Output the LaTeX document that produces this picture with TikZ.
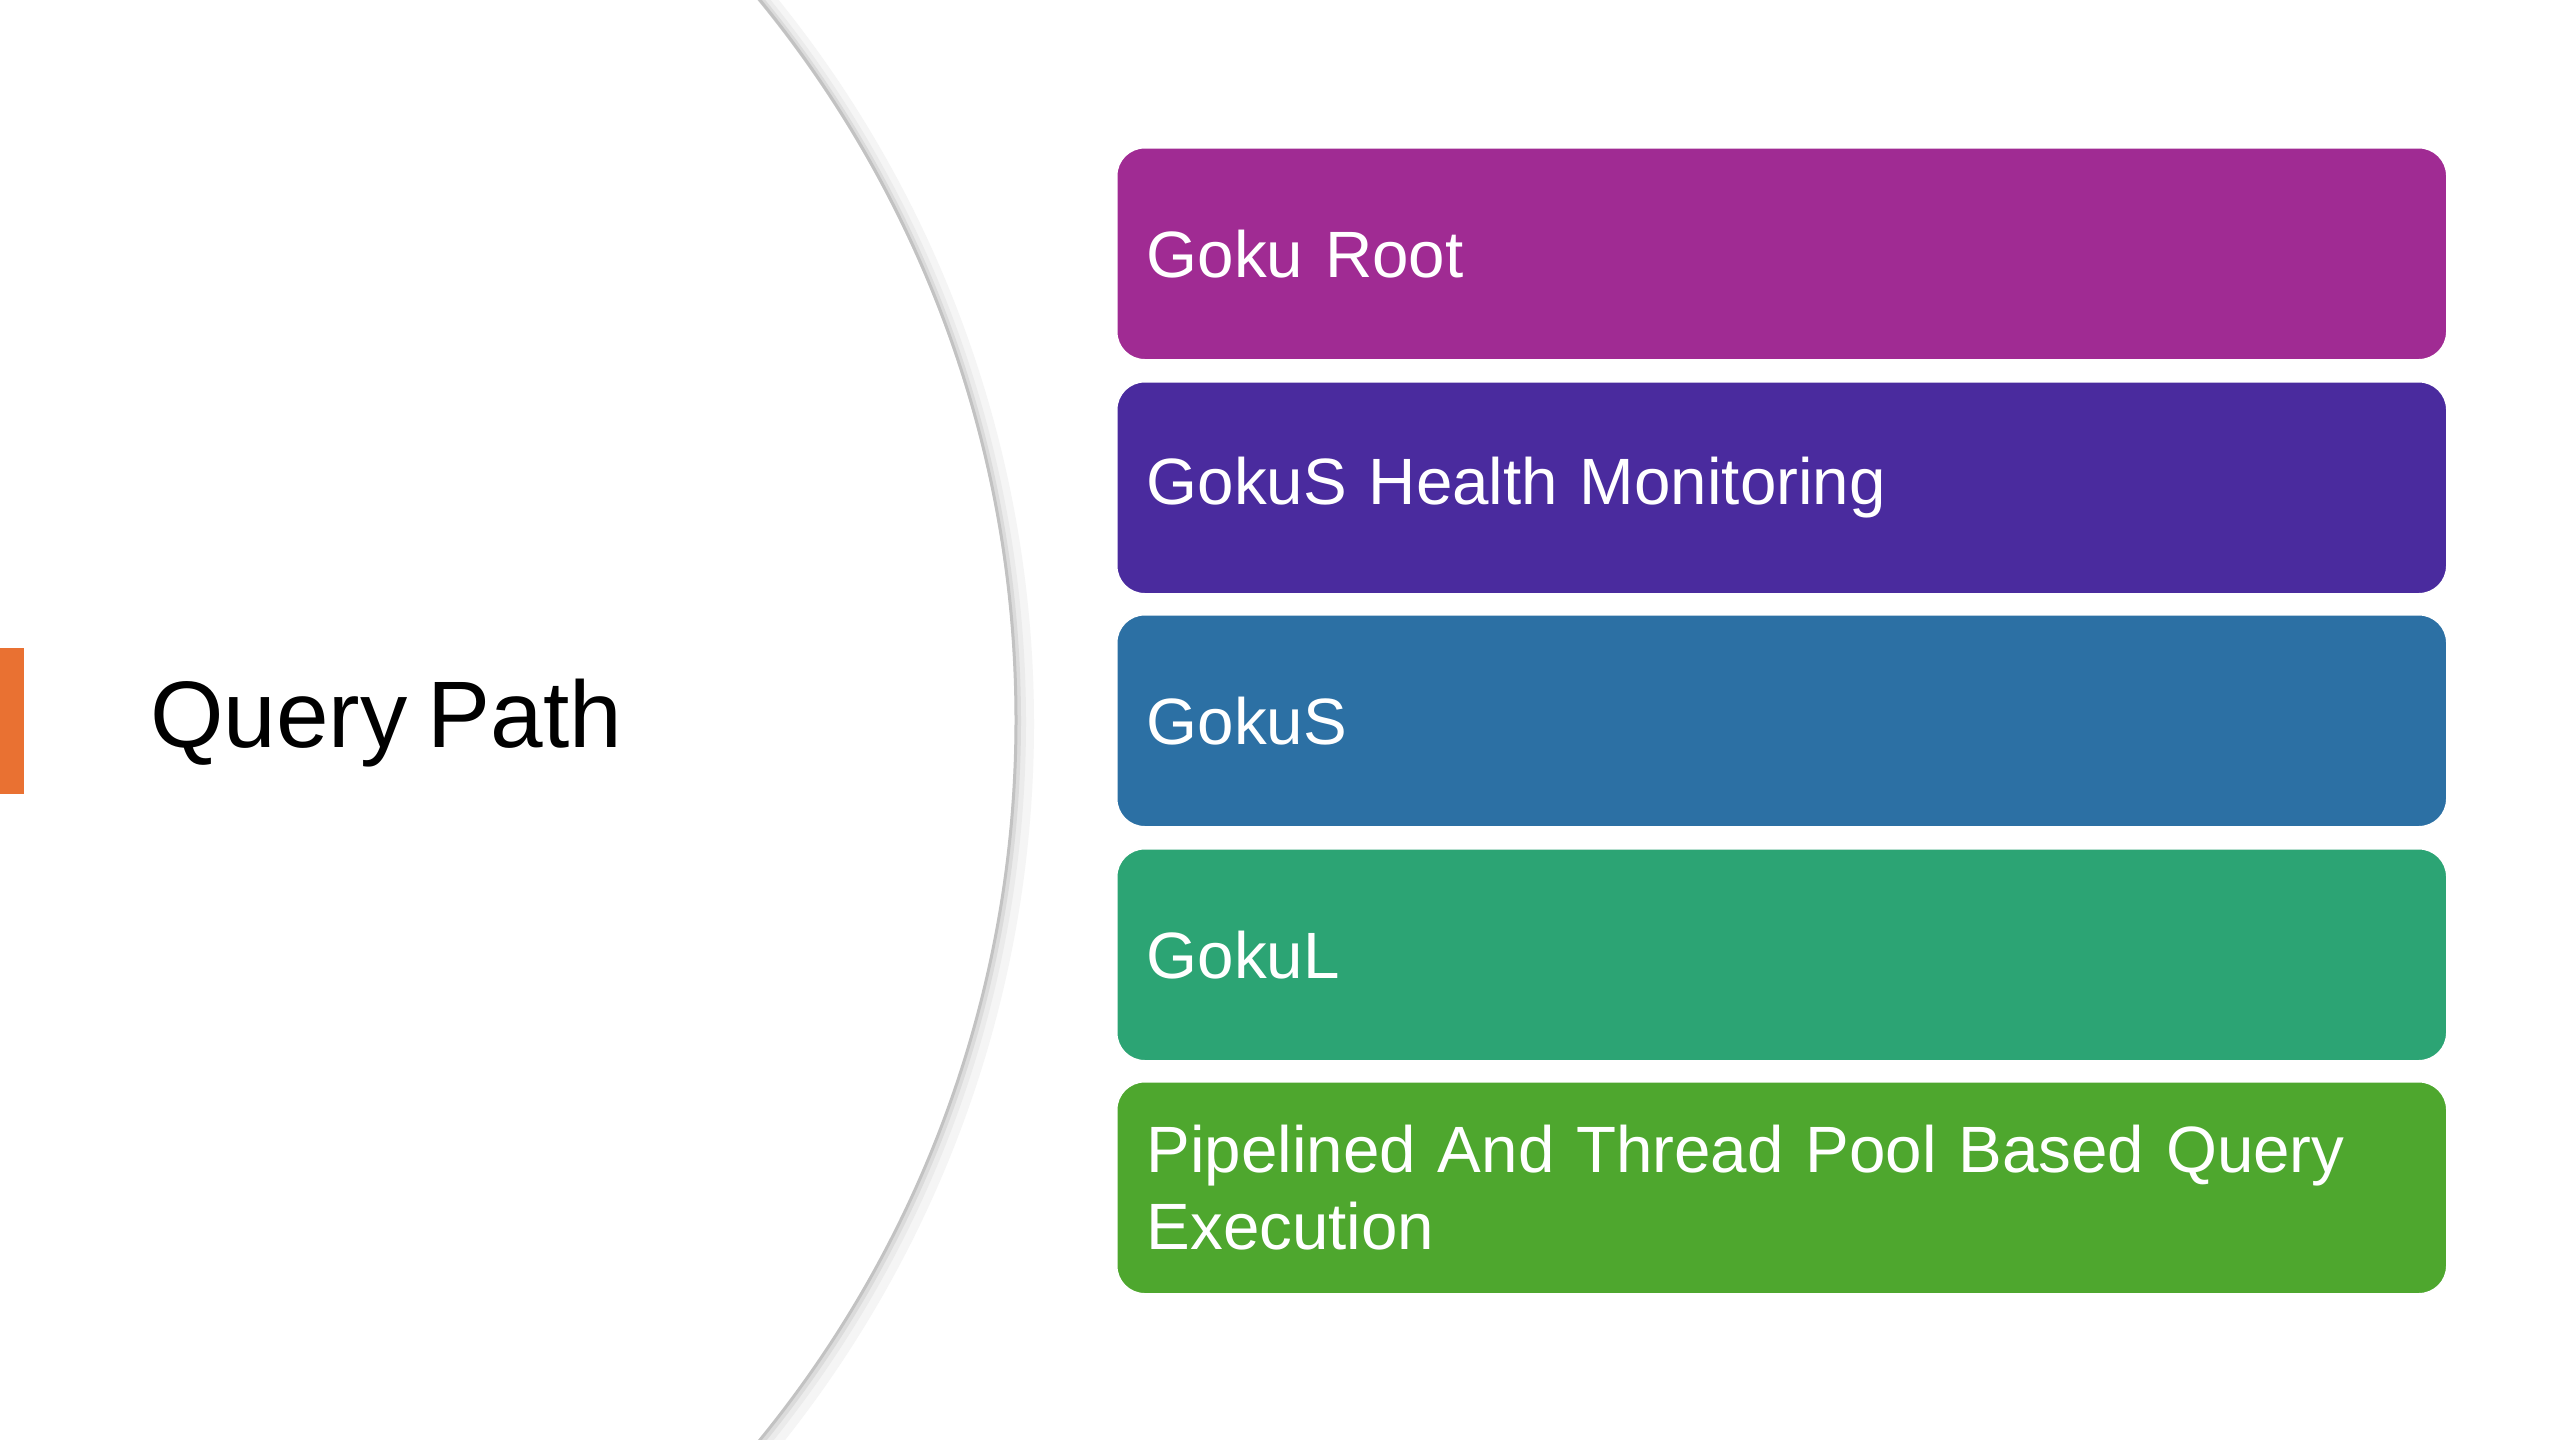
\documentclass[tikz,border=0pt]{standalone}
\usepackage{fontspec}
\setmainfont{Liberation Sans}
\definecolor{cRoot}{HTML}{A02B93}
\definecolor{cHealth}{HTML}{4A2B9E}
\definecolor{cGokuS}{HTML}{2C70A4}
\definecolor{cGokuL}{HTML}{2CA474}
\definecolor{cPipe}{HTML}{4EA72E}
\definecolor{cOrange}{HTML}{E97132}
\tikzset{
  layerbox/.style={rounded corners=28pt, draw=white, line width=1.5pt,
    minimum width=1330pt, minimum height=212pt, text width=1270pt,
    inner xsep=30pt, inner ysep=0pt, align=left, anchor=north west,
    text=white, font={\fontsize{65.5}{77}\selectfont\spaceskip=13pt plus 4pt minus 2pt\relax}},
  titletext/.style={anchor=base west, text=black, inner sep=0pt,
    font={\fontsize{94.5}{110}\selectfont\spaceskip=20pt\relax}}
}
\begin{document}
\begin{tikzpicture}[x=1pt,y=-1pt]
\useasboundingbox (0,0) rectangle (2560,1440);
\fill[white] (0,0) rectangle (2560,1440);
\begin{scope}
\clip (0,0) rectangle (2560,1440);
% big circle with soft shadow
\draw[black!4, line width=16pt] (-120,724) circle[radius=1146];
\draw[black!8, line width=10pt] (-122,722) circle[radius=1143];
\draw[black!14, line width=6pt] (-123,721) circle[radius=1141];
\draw[black!24, line width=3pt] (-124,720) circle[radius=1140];
\end{scope}
% orange accent bar
\fill[cOrange] (0,648) rectangle (24,794);
% title
\node[titletext] (title) at (150,747) {Query Path};
% stacked boxes
\node[layerbox, fill=cRoot] (b1) at (1116,147) {Goku Root};
\node[layerbox, fill=cHealth] (b2) at (1116,381) {GokuS Health Monitoring};
\node[layerbox, fill=cGokuS] (b3) at (1116,614) {GokuS};
\node[layerbox, fill=cGokuL] (b4) at (1116,848) {GokuL};
\node[layerbox, fill=cPipe] (b5) at (1116,1081) {Pipelined And Thread Pool Based Query Execution};
\end{tikzpicture}
\end{document}
